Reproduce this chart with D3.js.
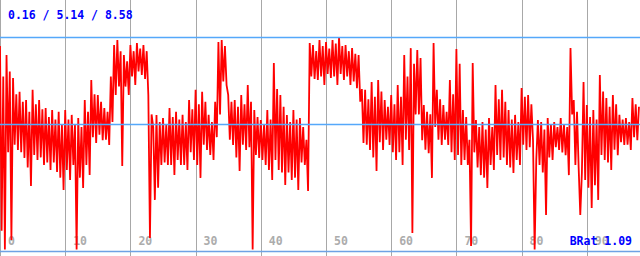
<!DOCTYPE html>
<html><head><meta charset="utf-8">
<script src="https://cdn.jsdelivr.net/npm/d3@7"></script>
<style>html,body{margin:0;padding:0;background:#fff;}svg{display:block;}</style>
</head><body>
<svg id="c" width="640" height="256"></svg>
<script>
// Series sampled every 0.25 x-units
const sampleStep = 0.25;
const values = [
8.20,0.90,7.00,0.16, 7.85,4.00,7.20,0.53, 6.94,4.30,6.30,4.09, 6.39,4.00,6.00,3.78,
6.07,3.40,5.60,2.67, 6.47,3.90,5.90,3.70, 6.07,3.80,5.70,3.50, 5.75,3.60,5.40,3.30,
5.67,3.60,5.30,3.22, 5.60,3.00,5.10,2.51, 5.67,3.30,5.30,2.91, 5.48,3.50,5.10,0.16,
5.36,3.00,5.00,2.59, 6.07,3.50,5.60,3.10, 6.86,4.60,6.30,4.37, 6.27,4.70,6.00,4.48,
5.75,4.50,5.60,4.29, 7.00,5.20,8.24,6.27, 8.44,6.60,8.00,3.46, 7.85,6.60,7.60,6.27,
8.24,7.00,8.00,6.66, 8.32,7.20,8.10,7.06, 8.24,6.90,8.00,6.27, 0.61,5.50,5.00,2.12,
5.48,2.60,5.20,3.50, 5.36,3.60,5.10,3.50, 5.75,3.50,5.40,3.10, 5.60,3.70,5.30,3.50,
5.48,3.50,5.20,3.30, 6.07,4.00,5.70,3.70, 6.47,3.50,5.90,2.99, 6.39,4.30,6.00,4.09,
5.48,3.90,5.20,3.70, 6.00,4.60,8.36,5.50, 8.44,6.80,8.20,6.66, 6.27,4.50,6.00,4.29,
6.07,3.80,5.80,3.26, 6.27,4.30,5.90,4.09, 6.66,4.20,6.00,0.16, 5.67,3.90,5.40,3.78,
5.28,3.70,5.10,3.50, 5.67,3.30,5.30,2.91, 7.53,3.70,6.50,3.30, 6.27,3.20,5.80,2.71,
5.48,3.20,5.20,2.91, 5.67,3.00,5.30,2.51, 5.36,3.60,5.00,3.50, 4.50,2.47,8.32,7.00,
8.24,6.90,8.00,6.86, 8.44,7.00,8.20,6.66, 8.36,7.10,8.10,6.94, 8.44,7.00,8.30,6.66,
8.56,7.10,8.20,6.86, 8.24,7.00,8.00,6.66, 8.12,6.80,7.90,6.54, 7.85,6.00,6.50,4.37,
6.47,4.30,6.10,4.09, 6.78,3.80,6.20,3.26, 6.86,4.40,6.40,4.09, 6.07,4.50,5.80,4.29,
6.27,4.00,5.90,3.70, 6.66,4.00,6.20,3.50, 7.85,4.50,7.00,4.09, 8.12,0.81,7.50,5.50,
8.05,5.50,7.73,4.48, 5.87,4.10,5.60,3.97, 5.50,2.99,8.32,5.00, 6.47,4.50,6.10,4.29,
5.87,4.50,5.60,4.29, 6.86,4.00,6.30,3.70, 8.09,3.90,7.50,3.50, 5.67,3.70,5.40,3.50,
4.50,0.30,7.53,4.00, 5.28,3.40,5.00,3.10, 5.20,3.00,4.90,2.59, 5.36,3.50,5.00,3.30,
6.66,3.90,6.10,3.70, 6.47,3.80,6.00,3.50, 5.67,3.40,5.30,3.18, 5.48,3.70,5.20,3.50,
6.54,4.30,6.20,4.09, 6.27,4.20,5.90,4.48, 0.16,3.70,5.28,3.50, 5.20,3.20,4.90,1.52,
5.36,3.80,5.10,3.70, 5.20,4.20,5.00,4.09, 5.36,4.00,5.10,3.89, 5.00,3.10,8.12,5.50,
6.07,3.50,5.60,3.40, 1.52,3.20,6.78,2.91, 5.87,2.60,5.40,1.80, 5.67,2.70,5.30,2.12,
7.06,3.90,6.40,3.70, 6.15,3.60,5.80,3.30, 6.27,4.10,5.90,3.89, 5.48,4.40,5.30,4.29,
5.36,4.30,5.20,4.09, 6.15,4.60,5.90,4.48, 5.80
];
const xTicks = [0, 10, 20, 30, 40, 50, 60, 70, 80, 90];
const statMin = "0.16", statAvg = "5.14", statMax = "8.58";
const refLines = [8.58, 5.14];
const ratioLabel = "BRat";
const ratioValue = "1.09";

const W = 640, H = 256;
const svg = d3.select("#c");
const x = d3.scaleLinear().domain([0, 100]).range([0, 652]);
const y = d3.scaleLinear().domain([0, 8.58]).range([253.5, 36.5]);
const font = "'DejaVu Sans Mono', monospace";

// vertical grid
svg.append("g").selectAll("line").data(xTicks).join("line")
  .attr("x1", d => Math.round(x(d)) + 0.5).attr("x2", d => Math.round(x(d)) + 0.5)
  .attr("y1", 0).attr("y2", H)
  .attr("stroke", "#a8a8a8").attr("stroke-width", 1);

// x tick labels
svg.append("g").selectAll("text").data(xTicks).join("text")
  .attr("x", d => x(d) + 8).attr("y", 245)
  .attr("font-family", font).attr("font-size", "11.5px").attr("font-weight", "bold")
  .attr("fill", "#acacac").text(d => d);

// series
const line = d3.line().x((d, i) => x(i * sampleStep)).y(d => y(d));
svg.append("path").datum(values).attr("d", line)
  .attr("fill", "none").attr("stroke", "#ff0000").attr("stroke-width", 1.8)
  .attr("stroke-linejoin", "miter").attr("stroke-miterlimit", 2);

// reference horizontal lines
svg.append("g").selectAll("line").data(refLines).join("line")
  .attr("x1", 0).attr("x2", W)
  .attr("y1", d => Math.round(y(d)) + 0.5).attr("y2", d => Math.round(y(d)) + 0.5)
  .attr("stroke", "#55a8fa").attr("stroke-width", 1.3);
// bottom frame line
svg.append("line").attr("x1", 0).attr("x2", W).attr("y1", 251.5).attr("y2", 251.5)
  .attr("stroke", "#6ea2e4").attr("stroke-width", 1.3);

// texts
svg.append("text").attr("x", 8).attr("y", 19)
  .attr("font-family", font).attr("font-size", "11.5px").attr("font-weight", "bold")
  .attr("fill", "#0000ff").text(`${statMin} / ${statAvg} / ${statMax}`);
svg.append("text").attr("x", 632).attr("y", 245).attr("text-anchor", "end")
  .attr("font-family", font).attr("font-size", "11.5px").attr("font-weight", "bold")
  .attr("fill", "#0000ff").text(`${ratioLabel} ${ratioValue}`);
</script>
</body></html>
